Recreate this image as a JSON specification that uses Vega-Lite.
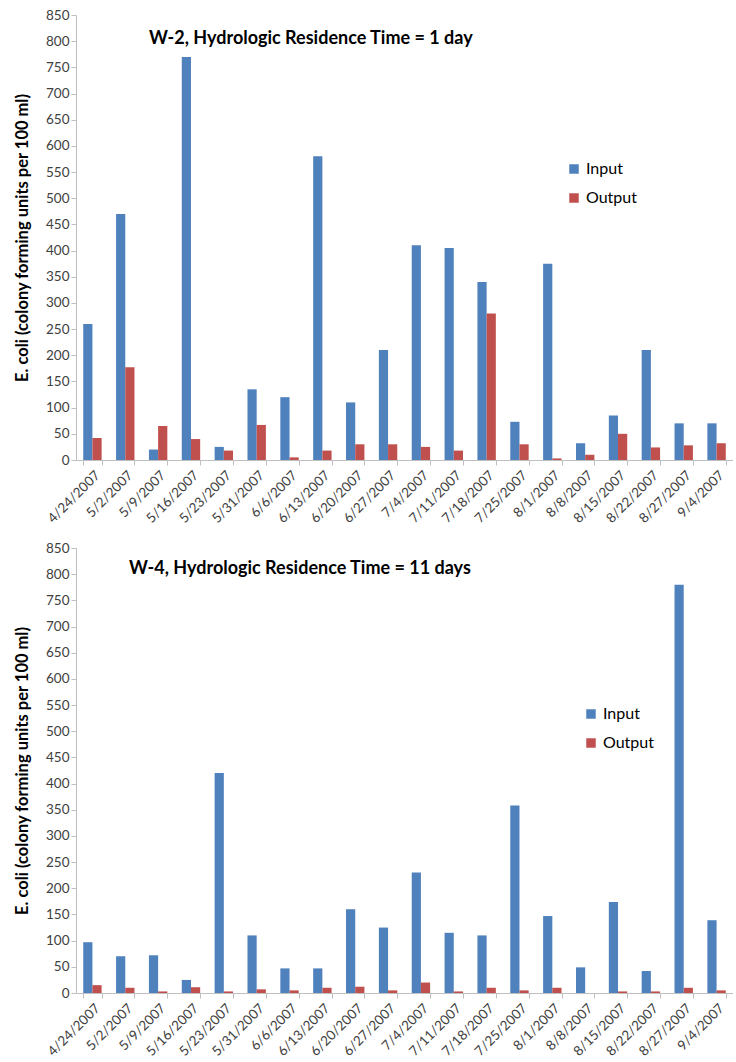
{
  "$schema": "https://vega.github.io/schema/vega-lite/v6.json",
  "padding": {"left": 14, "top": 8, "right": 0, "bottom": 0},
  "background": "white",
  "config": {
    "font": "Lato",
    "view": {"stroke": null},
    "axis": {"labelFont": "Lato", "titleFont": "Lato", "labelColor": "#404040", "domainColor": "#BFBFBF", "tickColor": "#BFBFBF", "grid": false}
  },
  "datasets": {
    "w2": [
      {"date": "4/24/2007", "series": "Input", "value": 260}, {"date": "4/24/2007", "series": "Output", "value": 42},
      {"date": "5/2/2007", "series": "Input", "value": 470}, {"date": "5/2/2007", "series": "Output", "value": 177},
      {"date": "5/9/2007", "series": "Input", "value": 20}, {"date": "5/9/2007", "series": "Output", "value": 65},
      {"date": "5/16/2007", "series": "Input", "value": 770}, {"date": "5/16/2007", "series": "Output", "value": 40},
      {"date": "5/23/2007", "series": "Input", "value": 25}, {"date": "5/23/2007", "series": "Output", "value": 18},
      {"date": "5/31/2007", "series": "Input", "value": 135}, {"date": "5/31/2007", "series": "Output", "value": 67},
      {"date": "6/6/2007", "series": "Input", "value": 120}, {"date": "6/6/2007", "series": "Output", "value": 5},
      {"date": "6/13/2007", "series": "Input", "value": 580}, {"date": "6/13/2007", "series": "Output", "value": 18},
      {"date": "6/20/2007", "series": "Input", "value": 110}, {"date": "6/20/2007", "series": "Output", "value": 30},
      {"date": "6/27/2007", "series": "Input", "value": 210}, {"date": "6/27/2007", "series": "Output", "value": 30},
      {"date": "7/4/2007", "series": "Input", "value": 410}, {"date": "7/4/2007", "series": "Output", "value": 25},
      {"date": "7/11/2007", "series": "Input", "value": 405}, {"date": "7/11/2007", "series": "Output", "value": 18},
      {"date": "7/18/2007", "series": "Input", "value": 340}, {"date": "7/18/2007", "series": "Output", "value": 280},
      {"date": "7/25/2007", "series": "Input", "value": 73}, {"date": "7/25/2007", "series": "Output", "value": 30},
      {"date": "8/1/2007", "series": "Input", "value": 375}, {"date": "8/1/2007", "series": "Output", "value": 3},
      {"date": "8/8/2007", "series": "Input", "value": 32}, {"date": "8/8/2007", "series": "Output", "value": 10},
      {"date": "8/15/2007", "series": "Input", "value": 85}, {"date": "8/15/2007", "series": "Output", "value": 50},
      {"date": "8/22/2007", "series": "Input", "value": 210}, {"date": "8/22/2007", "series": "Output", "value": 24},
      {"date": "8/27/2007", "series": "Input", "value": 70}, {"date": "8/27/2007", "series": "Output", "value": 28},
      {"date": "9/4/2007", "series": "Input", "value": 70}, {"date": "9/4/2007", "series": "Output", "value": 32}
    ],
    "w4": [
      {"date": "4/24/2007", "series": "Input", "value": 97}, {"date": "4/24/2007", "series": "Output", "value": 15},
      {"date": "5/2/2007", "series": "Input", "value": 70}, {"date": "5/2/2007", "series": "Output", "value": 10},
      {"date": "5/9/2007", "series": "Input", "value": 72}, {"date": "5/9/2007", "series": "Output", "value": 3},
      {"date": "5/16/2007", "series": "Input", "value": 25}, {"date": "5/16/2007", "series": "Output", "value": 11},
      {"date": "5/23/2007", "series": "Input", "value": 420}, {"date": "5/23/2007", "series": "Output", "value": 3},
      {"date": "5/31/2007", "series": "Input", "value": 110}, {"date": "5/31/2007", "series": "Output", "value": 7},
      {"date": "6/6/2007", "series": "Input", "value": 47}, {"date": "6/6/2007", "series": "Output", "value": 5},
      {"date": "6/13/2007", "series": "Input", "value": 47}, {"date": "6/13/2007", "series": "Output", "value": 10},
      {"date": "6/20/2007", "series": "Input", "value": 160}, {"date": "6/20/2007", "series": "Output", "value": 12},
      {"date": "6/27/2007", "series": "Input", "value": 125}, {"date": "6/27/2007", "series": "Output", "value": 5},
      {"date": "7/4/2007", "series": "Input", "value": 230}, {"date": "7/4/2007", "series": "Output", "value": 20},
      {"date": "7/11/2007", "series": "Input", "value": 115}, {"date": "7/11/2007", "series": "Output", "value": 3},
      {"date": "7/18/2007", "series": "Input", "value": 110}, {"date": "7/18/2007", "series": "Output", "value": 10},
      {"date": "7/25/2007", "series": "Input", "value": 358}, {"date": "7/25/2007", "series": "Output", "value": 5},
      {"date": "8/1/2007", "series": "Input", "value": 147}, {"date": "8/1/2007", "series": "Output", "value": 10},
      {"date": "8/8/2007", "series": "Input", "value": 49}, {"date": "8/8/2007", "series": "Output", "value": 0},
      {"date": "8/15/2007", "series": "Input", "value": 174}, {"date": "8/15/2007", "series": "Output", "value": 3},
      {"date": "8/22/2007", "series": "Input", "value": 42}, {"date": "8/22/2007", "series": "Output", "value": 3},
      {"date": "8/27/2007", "series": "Input", "value": 780}, {"date": "8/27/2007", "series": "Output", "value": 10},
      {"date": "9/4/2007", "series": "Input", "value": 139}, {"date": "9/4/2007", "series": "Output", "value": 5}
    ]
  },
  "vconcat": [
    {
      "data": {"name": "w2"},
      "width": 657,
      "height": 445,
      "title": {"text": "W-2, Hydrologic Residence Time = 1 day", "anchor": "start", "frame": "group", "dx": 73, "dy": 44, "fontSize": 18, "fontWeight": "bold", "font": "Lato", "color": "#000000"},
      "mark": {"type": "bar"},
      "encoding": {
        "x": {"field": "date", "type": "nominal", "sort": null, "title": null,
              "scale": {"paddingInner": 0.44, "paddingOuter": 0.22},
              "axis": {"labelAngle": -45, "tickBand": "extent", "labelFontSize": 13.5, "tickSize": 5, "labelPadding": 3}},
        "xOffset": {"field": "series", "type": "nominal", "sort": ["Input", "Output"]},
        "y": {"field": "value", "type": "quantitative",
              "scale": {"domain": [0, 850], "nice": false},
              "axis": {"values": [0,50,100,150,200,250,300,350,400,450,500,550,600,650,700,750,800,850], "labelFontSize": 13.5, "tickSize": 5, "title": "E. coli (colony forming units per 100 ml)", "titleFontSize": 16.5, "titleFontWeight": "bold", "titleColor": "#000000", "titlePadding": 15}},
        "color": {"field": "series", "type": "nominal",
                  "scale": {"domain": ["Input", "Output"], "range": ["#4F81BD", "#C0504D"]},
                  "legend": {"title": null, "orient": "none", "legendX": 490, "legendY": 146, "symbolType": "square", "symbolSize": 90, "labelFontSize": 16, "labelColor": "#000000", "rowPadding": 13, "symbolStrokeWidth": 0}}
      }
    },
    {
      "data": {"name": "w4"},
      "width": 657,
      "height": 445,
      "title": {"text": "W-4, Hydrologic Residence Time = 11 days", "anchor": "start", "frame": "group", "dx": 53, "dy": 41, "fontSize": 18, "fontWeight": "bold", "font": "Lato", "color": "#000000"},
      "mark": {"type": "bar"},
      "encoding": {
        "x": {"field": "date", "type": "nominal", "sort": null, "title": null,
              "scale": {"paddingInner": 0.44, "paddingOuter": 0.22},
              "axis": {"labelAngle": -45, "tickBand": "extent", "labelFontSize": 13.5, "tickSize": 5, "labelPadding": 3}},
        "xOffset": {"field": "series", "type": "nominal", "sort": ["Input", "Output"]},
        "y": {"field": "value", "type": "quantitative",
              "scale": {"domain": [0, 850], "nice": false},
              "axis": {"values": [0,50,100,150,200,250,300,350,400,450,500,550,600,650,700,750,800,850], "labelFontSize": 13.5, "tickSize": 5, "title": "E. coli (colony forming units per 100 ml)", "titleFontSize": 16.5, "titleFontWeight": "bold", "titleColor": "#000000", "titlePadding": 15}},
        "color": {"field": "series", "type": "nominal",
                  "scale": {"domain": ["Input", "Output"], "range": ["#4F81BD", "#C0504D"]},
                  "legend": {"title": null, "orient": "none", "legendX": 507, "legendY": 158, "symbolType": "square", "symbolSize": 90, "labelFontSize": 16, "labelColor": "#000000", "rowPadding": 13, "symbolStrokeWidth": 0}}
      }
    }
  ],
  "resolve": {"legend": {"color": "independent"}, "scale": {"color": "independent"}},
  "spacing": 16
}
